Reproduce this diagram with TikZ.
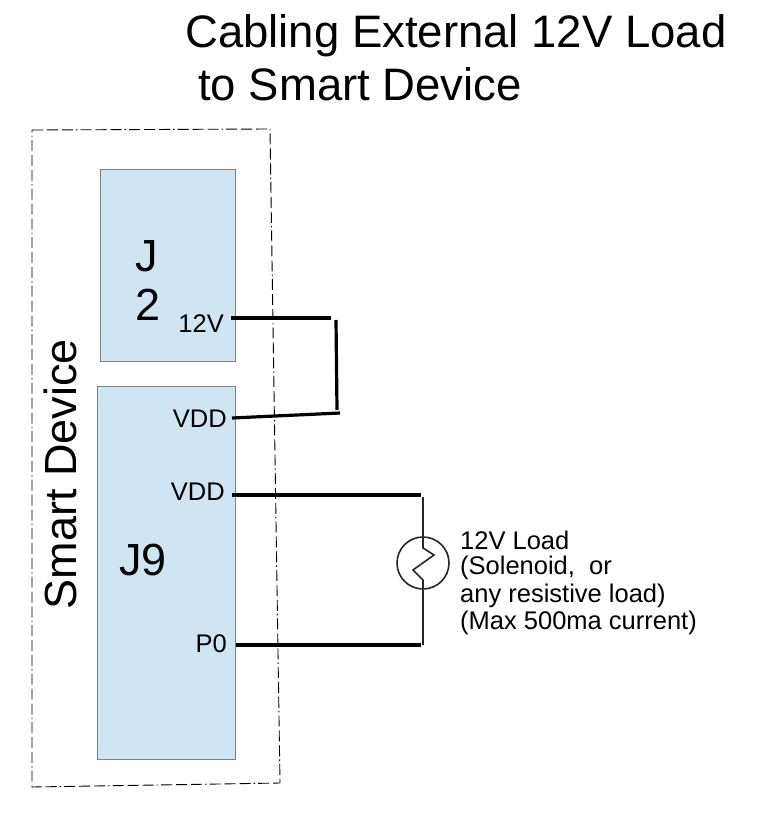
\documentclass[tikz,border=0pt]{standalone}
\usepackage{fontspec}
\setmainfont{Liberation Sans}
\tikzset{
  blk/.style={draw=black!50,fill=blockblue,line width=1pt,inner sep=0pt},
  wire/.style={line width=3.2pt,black},
  thinwire/.style={line width=1.6pt,black!85},
  framel/.style={line width=0.9pt,black,dash pattern=on 11pt off 4pt on 11pt off 4pt on 11pt off 3pt on 1.5pt off 3pt},
  pin/.style={anchor=east,inner sep=0pt,font=\fontsize{25.5}{29}\selectfont},
  big/.style={inner sep=0pt,font=\fontsize{45}{50}\selectfont},
  ttl/.style={anchor=west,inner sep=0pt,font=\fontsize{45.5}{50}\selectfont},
  note/.style={anchor=west,inner sep=0pt,font=\fontsize{25.5}{29}\selectfont}
}
\definecolor{blockblue}{HTML}{CFE5F3}
\begin{document}
\begin{tikzpicture}[x=1pt,y=-1pt]
\useasboundingbox (0,0) rectangle (769,832);
\node[ttl] (title1) at (185,36) {Cabling External 12V Load};
\node[ttl] (title2) at (198,84) {to Smart Device};
\coordinate (fa) at (32,130);
\coordinate (fb) at (270,129);
\coordinate (fc) at (280,783);
\coordinate (fd) at (32,787);
\draw[framel] (fa) -- (fb) -- (fc) -- (fd) -- cycle;
\node[blk,minimum width=135pt,minimum height=192pt] (j2) at (167.5,265) {};
\node[blk,minimum width=138pt,minimum height=373pt] (j9) at (166,572.5) {};
\node[big] (j2a) at (147,256) {J};
\node[big] (j2b) at (148,305) {2};
\node[big] (j9t) at (143,560) {J9};
\node[big,rotate=90] (sd) at (60,474) {Smart Device};
\node[pin] (p12) at (224,324) {12V};
\node[pin] (pv1) at (227,419) {VDD};
\node[pin] (pv2) at (225,492) {VDD};
\node[pin] (pp0) at (227,644) {P0};
\coordinate (a1) at (231,318);
\coordinate (a2) at (331,318);
\coordinate (b1) at (336,320);
\coordinate (b2) at (337,410);
\coordinate (c1) at (232,418);
\coordinate (c2) at (340,413);
\coordinate (d1) at (232,495);
\coordinate (d2) at (421,495);
\coordinate (e1) at (236,645);
\coordinate (e2) at (421,645);
\coordinate (t1) at (423,497);
\coordinate (t2) at (423,645);
\draw[wire] (a1) -- (a2);
\draw[wire] (b1) -- (b2);
\draw[wire] (c1) -- (c2);
\draw[wire] (d1) -- (d2);
\draw[wire] (e1) -- (e2);
\node[draw=black!85,line width=1.6pt,circle,minimum size=52pt,inner sep=0pt] (load) at (423,563) {};
\draw[thinwire] (t1) -- (423,548) -- (434,555) -- (413,570) -- (423,580) -- (t2);
\node[note] (lt1) at (460,540) {12V Load};
\node[note] (lt2) at (460,568) {(Solenoid,\ \ or};
\node[note] (lt3) at (460,596) {any resistive load)};
\node[note] (lt4) at (460,623) {(Max 500ma current)};
\end{tikzpicture}
\end{document}
